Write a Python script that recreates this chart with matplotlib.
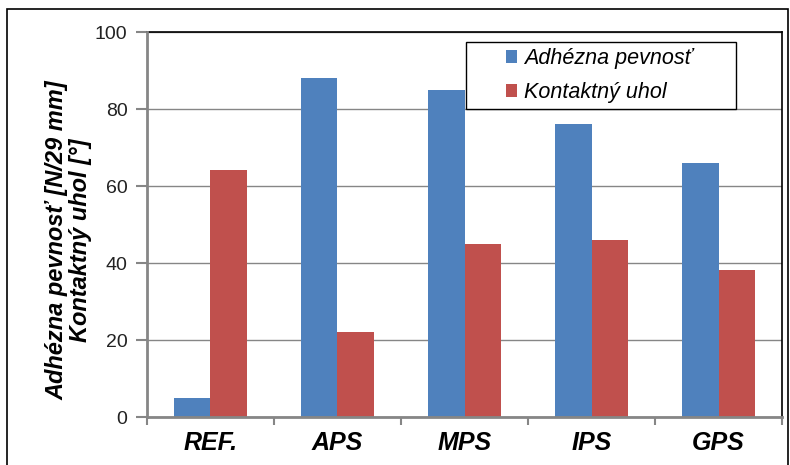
import matplotlib.pyplot as plt
from matplotlib.patches import Rectangle
import numpy as np

categories = ["REF.", "APS", "MPS", "IPS", "GPS"]
adhezna = [5, 88, 85, 76, 66]
kontaktny = [64.3, 22, 45, 46, 38.3]
yticks = [0, 20, 40, 60, 80, 100]

blue = "#4F81BD"
red = "#C0504D"
gray = "#868686"

plt.rcParams['font.family'] = ['Liberation Sans', 'DejaVu Sans']

fig = plt.figure(figsize=(7.9, 4.65), dpi=100)
ax = fig.add_axes([0.186, 0.103, 0.804, 0.828])

x = np.arange(len(categories))
w = 0.29
ax.bar(x - w / 2, adhezna, w, color=blue, zorder=3, label="Adhézna pevnosť")
ax.bar(x + w / 2, kontaktny, w, color=red, zorder=3, label="Kontaktný uhol")

ax.set_xlim(-0.5, len(categories) - 0.5)
ax.set_ylim(0, 100)
ax.set_yticks(yticks)
ax.set_yticklabels([str(v) for v in yticks], fontsize=14, color="#222222")
ax.yaxis.grid(True, color=gray, linewidth=1, zorder=0)

ax.set_xticks(x)
ax.set_xticklabels(categories, fontsize=18, fontweight="bold", style="italic")
ax.set_xticks(np.arange(len(categories) + 1) - 0.5, minor=True)
ax.tick_params(axis="x", which="major", length=0, pad=10)
ax.tick_params(axis="x", which="minor", length=6, color=gray, width=1.5, direction="out")
ax.tick_params(axis="y", length=8, color=gray, width=1.5, direction="out", pad=6)

ax.spines["left"].set_color(gray)
ax.spines["left"].set_linewidth(2)
ax.spines["bottom"].set_color(gray)
ax.spines["bottom"].set_linewidth(2)
ax.spines["top"].set_color("black")
ax.spines["right"].set_color("black")
ax.spines["top"].set_linewidth(1.2)
ax.spines["right"].set_linewidth(1.2)
ax.spines["left"].set_zorder(4)
ax.spines["bottom"].set_zorder(4)

ax.set_ylabel("Adhézna pevnosť [N/29 mm]\nKontaktný uhol [°]", fontsize=17,
              fontweight="bold", style="italic", linespacing=1.05)
ax.yaxis.set_label_coords(-0.086, 0.46)

# legend box drawn separately so it can be wider than the text
box = Rectangle((0.502, 0.80), 0.426, 0.174, transform=ax.transAxes,
                facecolor="white", edgecolor="black", linewidth=1, zorder=5)
ax.add_patch(box)
leg = ax.legend(loc="center left", bbox_to_anchor=(0.566, 0.887), frameon=False,
                prop={"size": 15.5, "style": "italic"}, handlelength=0.5,
                handleheight=0.5, handletextpad=0.3, labelspacing=0.6,
                borderpad=0, borderaxespad=0)
leg.set_zorder(6)

fig.patches.append(Rectangle((0.009, -0.05), 0.988, 1.03, transform=fig.transFigure,
                             fill=False, edgecolor="black", linewidth=1.2))

fig.savefig("out.png", dpi=100)
